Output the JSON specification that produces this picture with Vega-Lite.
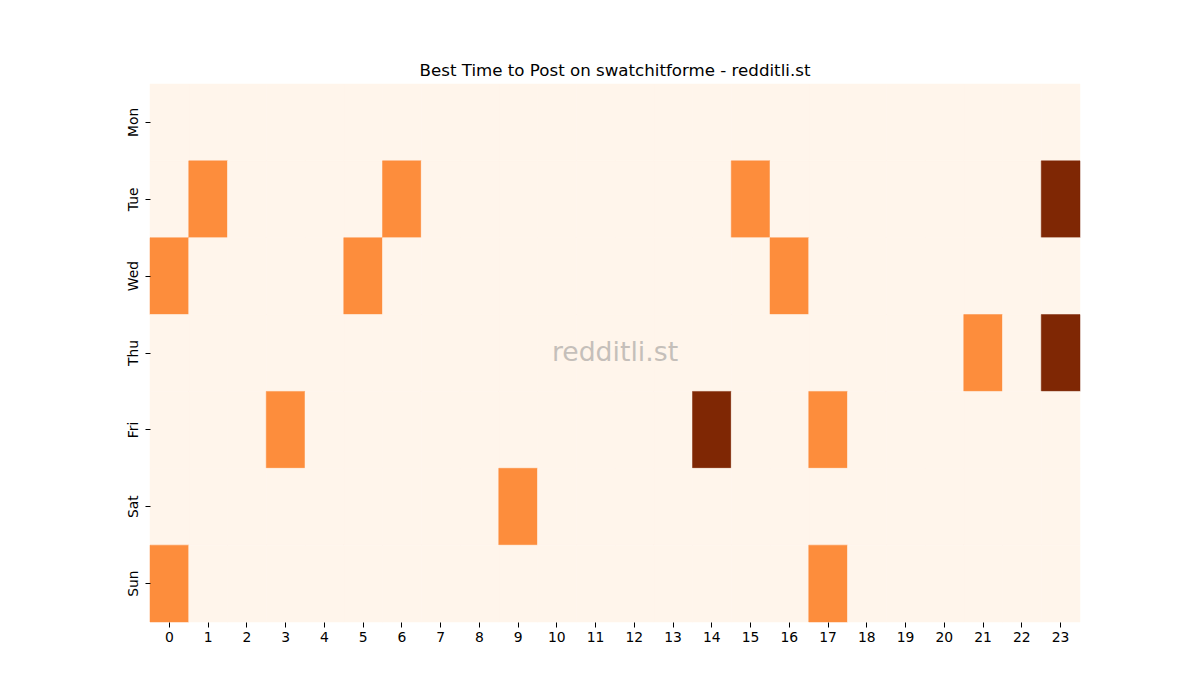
{
  "$schema": "https://vega.github.io/schema/vega-lite/v6.json",
  "width": 930,
  "height": 538,
  "autosize": "none",
  "padding": {"left": 150, "top": 84, "right": 120, "bottom": 78},
  "background": "white",
  "config": {
    "font": "DejaVu Sans",
    "view": {"stroke": null},
    "axis": {"domain": false, "grid": false, "ticks": true, "tickSize": 5, "tickColor": "black", "labelColor": "black", "labelFontSize": 13.9, "labelFont": "DejaVu Sans", "labelPadding": 3, "title": null}
  },
  "title": {"text": "Best Time to Post on swatchitforme - redditli.st", "fontSize": 16.67, "fontWeight": "normal", "font": "DejaVu Sans", "color": "black", "offset": 4},
  "layer": [
    {
      "data": {"values": [
        {"day":"Mon","hour":0,"posts":0},{"day":"Mon","hour":1,"posts":0},{"day":"Mon","hour":2,"posts":0},{"day":"Mon","hour":3,"posts":0},{"day":"Mon","hour":4,"posts":0},{"day":"Mon","hour":5,"posts":0},{"day":"Mon","hour":6,"posts":0},{"day":"Mon","hour":7,"posts":0},{"day":"Mon","hour":8,"posts":0},{"day":"Mon","hour":9,"posts":0},{"day":"Mon","hour":10,"posts":0},{"day":"Mon","hour":11,"posts":0},{"day":"Mon","hour":12,"posts":0},{"day":"Mon","hour":13,"posts":0},{"day":"Mon","hour":14,"posts":0},{"day":"Mon","hour":15,"posts":0},{"day":"Mon","hour":16,"posts":0},{"day":"Mon","hour":17,"posts":0},{"day":"Mon","hour":18,"posts":0},{"day":"Mon","hour":19,"posts":0},{"day":"Mon","hour":20,"posts":0},{"day":"Mon","hour":21,"posts":0},{"day":"Mon","hour":22,"posts":0},{"day":"Mon","hour":23,"posts":0},
        {"day":"Tue","hour":0,"posts":0},{"day":"Tue","hour":1,"posts":1},{"day":"Tue","hour":2,"posts":0},{"day":"Tue","hour":3,"posts":0},{"day":"Tue","hour":4,"posts":0},{"day":"Tue","hour":5,"posts":0},{"day":"Tue","hour":6,"posts":1},{"day":"Tue","hour":7,"posts":0},{"day":"Tue","hour":8,"posts":0},{"day":"Tue","hour":9,"posts":0},{"day":"Tue","hour":10,"posts":0},{"day":"Tue","hour":11,"posts":0},{"day":"Tue","hour":12,"posts":0},{"day":"Tue","hour":13,"posts":0},{"day":"Tue","hour":14,"posts":0},{"day":"Tue","hour":15,"posts":1},{"day":"Tue","hour":16,"posts":0},{"day":"Tue","hour":17,"posts":0},{"day":"Tue","hour":18,"posts":0},{"day":"Tue","hour":19,"posts":0},{"day":"Tue","hour":20,"posts":0},{"day":"Tue","hour":21,"posts":0},{"day":"Tue","hour":22,"posts":0},{"day":"Tue","hour":23,"posts":2},
        {"day":"Wed","hour":0,"posts":1},{"day":"Wed","hour":1,"posts":0},{"day":"Wed","hour":2,"posts":0},{"day":"Wed","hour":3,"posts":0},{"day":"Wed","hour":4,"posts":0},{"day":"Wed","hour":5,"posts":1},{"day":"Wed","hour":6,"posts":0},{"day":"Wed","hour":7,"posts":0},{"day":"Wed","hour":8,"posts":0},{"day":"Wed","hour":9,"posts":0},{"day":"Wed","hour":10,"posts":0},{"day":"Wed","hour":11,"posts":0},{"day":"Wed","hour":12,"posts":0},{"day":"Wed","hour":13,"posts":0},{"day":"Wed","hour":14,"posts":0},{"day":"Wed","hour":15,"posts":0},{"day":"Wed","hour":16,"posts":1},{"day":"Wed","hour":17,"posts":0},{"day":"Wed","hour":18,"posts":0},{"day":"Wed","hour":19,"posts":0},{"day":"Wed","hour":20,"posts":0},{"day":"Wed","hour":21,"posts":0},{"day":"Wed","hour":22,"posts":0},{"day":"Wed","hour":23,"posts":0},
        {"day":"Thu","hour":0,"posts":0},{"day":"Thu","hour":1,"posts":0},{"day":"Thu","hour":2,"posts":0},{"day":"Thu","hour":3,"posts":0},{"day":"Thu","hour":4,"posts":0},{"day":"Thu","hour":5,"posts":0},{"day":"Thu","hour":6,"posts":0},{"day":"Thu","hour":7,"posts":0},{"day":"Thu","hour":8,"posts":0},{"day":"Thu","hour":9,"posts":0},{"day":"Thu","hour":10,"posts":0},{"day":"Thu","hour":11,"posts":0},{"day":"Thu","hour":12,"posts":0},{"day":"Thu","hour":13,"posts":0},{"day":"Thu","hour":14,"posts":0},{"day":"Thu","hour":15,"posts":0},{"day":"Thu","hour":16,"posts":0},{"day":"Thu","hour":17,"posts":0},{"day":"Thu","hour":18,"posts":0},{"day":"Thu","hour":19,"posts":0},{"day":"Thu","hour":20,"posts":0},{"day":"Thu","hour":21,"posts":1},{"day":"Thu","hour":22,"posts":0},{"day":"Thu","hour":23,"posts":2},
        {"day":"Fri","hour":0,"posts":0},{"day":"Fri","hour":1,"posts":0},{"day":"Fri","hour":2,"posts":0},{"day":"Fri","hour":3,"posts":1},{"day":"Fri","hour":4,"posts":0},{"day":"Fri","hour":5,"posts":0},{"day":"Fri","hour":6,"posts":0},{"day":"Fri","hour":7,"posts":0},{"day":"Fri","hour":8,"posts":0},{"day":"Fri","hour":9,"posts":0},{"day":"Fri","hour":10,"posts":0},{"day":"Fri","hour":11,"posts":0},{"day":"Fri","hour":12,"posts":0},{"day":"Fri","hour":13,"posts":0},{"day":"Fri","hour":14,"posts":2},{"day":"Fri","hour":15,"posts":0},{"day":"Fri","hour":16,"posts":0},{"day":"Fri","hour":17,"posts":1},{"day":"Fri","hour":18,"posts":0},{"day":"Fri","hour":19,"posts":0},{"day":"Fri","hour":20,"posts":0},{"day":"Fri","hour":21,"posts":0},{"day":"Fri","hour":22,"posts":0},{"day":"Fri","hour":23,"posts":0},
        {"day":"Sat","hour":0,"posts":0},{"day":"Sat","hour":1,"posts":0},{"day":"Sat","hour":2,"posts":0},{"day":"Sat","hour":3,"posts":0},{"day":"Sat","hour":4,"posts":0},{"day":"Sat","hour":5,"posts":0},{"day":"Sat","hour":6,"posts":0},{"day":"Sat","hour":7,"posts":0},{"day":"Sat","hour":8,"posts":0},{"day":"Sat","hour":9,"posts":1},{"day":"Sat","hour":10,"posts":0},{"day":"Sat","hour":11,"posts":0},{"day":"Sat","hour":12,"posts":0},{"day":"Sat","hour":13,"posts":0},{"day":"Sat","hour":14,"posts":0},{"day":"Sat","hour":15,"posts":0},{"day":"Sat","hour":16,"posts":0},{"day":"Sat","hour":17,"posts":0},{"day":"Sat","hour":18,"posts":0},{"day":"Sat","hour":19,"posts":0},{"day":"Sat","hour":20,"posts":0},{"day":"Sat","hour":21,"posts":0},{"day":"Sat","hour":22,"posts":0},{"day":"Sat","hour":23,"posts":0},
        {"day":"Sun","hour":0,"posts":1},{"day":"Sun","hour":1,"posts":0},{"day":"Sun","hour":2,"posts":0},{"day":"Sun","hour":3,"posts":0},{"day":"Sun","hour":4,"posts":0},{"day":"Sun","hour":5,"posts":0},{"day":"Sun","hour":6,"posts":0},{"day":"Sun","hour":7,"posts":0},{"day":"Sun","hour":8,"posts":0},{"day":"Sun","hour":9,"posts":0},{"day":"Sun","hour":10,"posts":0},{"day":"Sun","hour":11,"posts":0},{"day":"Sun","hour":12,"posts":0},{"day":"Sun","hour":13,"posts":0},{"day":"Sun","hour":14,"posts":0},{"day":"Sun","hour":15,"posts":0},{"day":"Sun","hour":16,"posts":0},{"day":"Sun","hour":17,"posts":1},{"day":"Sun","hour":18,"posts":0},{"day":"Sun","hour":19,"posts":0},{"day":"Sun","hour":20,"posts":0},{"day":"Sun","hour":21,"posts":0},{"day":"Sun","hour":22,"posts":0},{"day":"Sun","hour":23,"posts":0}
      ]},
      "mark": {"type": "rect", "strokeWidth": 0.5},
      "encoding": {
        "x": {"field": "hour", "type": "ordinal", "sort": "ascending", "scale": {"paddingInner": 0, "paddingOuter": 0}, "axis": {"labelAngle": 0}},
        "y": {"field": "day", "type": "ordinal", "sort": ["Mon", "Tue", "Wed", "Thu", "Fri", "Sat", "Sun"], "scale": {"paddingInner": 0, "paddingOuter": 0}, "axis": {"labelAngle": 270, "labelAlign": "center", "labelBaseline": "bottom", "labelPadding": 5}},
        "color": {"field": "posts", "type": "quantitative", "scale": {"domain": [0, 1, 2], "range": ["#fff5eb", "#fd8d3c", "#7f2704"]}, "legend": null},
        "stroke": {"field": "posts", "type": "quantitative", "scale": {"domain": [0, 1, 2], "range": ["#fff5eb", "#fd8d3c", "#7f2704"]}, "legend": null}
      }
    },
    {
      "data": {"values": [{"label": "redditli.st"}]},
      "mark": {"type": "text", "fontSize": 26.7, "font": "DejaVu Sans", "color": "#808080", "opacity": 0.45, "align": "center", "baseline": "middle"},
      "encoding": {"text": {"field": "label"}}
    }
  ]
}
